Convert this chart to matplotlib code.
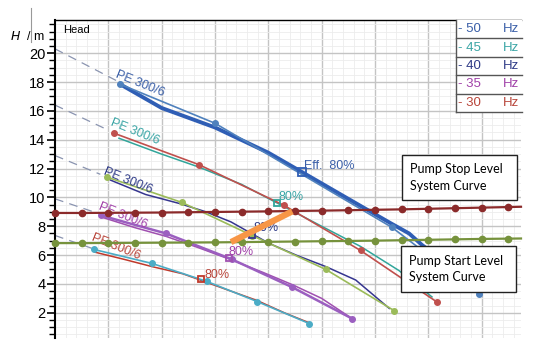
import matplotlib
matplotlib.use("Agg")
import matplotlib.pyplot as plt
from matplotlib.patches import Rectangle
from matplotlib.lines import Line2D

# Drehzahlen (Frequenz)
speeds = ["50", "45", "40", "35", "30"]

# gemessene Punkte (mit Markern)
meas_q = [
    [1.22, 3.0, 6.32, 7.95],
    [1.1, 2.7, 4.3, 5.73, 7.17],
    [0.98, 2.38, 3.7, 5.08, 6.36],
    [0.86, 2.08, 3.32, 4.45, 5.57],
    [0.73, 1.82, 2.85, 3.79, 4.77],
]
meas_h = [
    [17.85, 15.14, 7.92, 3.33],
    [14.46, 12.27, 9.44, 6.32, 2.73],
    [11.4, 9.65, 7.35, 5.0, 2.15],
    [8.75, 7.5, 5.7, 3.77, 1.6],
    [6.39, 5.42, 4.17, 2.78, 1.25],
]

# Kennlinien PE 300/6
curve_q = [
    [1.22, 2.0, 3.0, 4.0, 4.63, 5.5, 6.3, 6.64, 6.89, 7.5, 7.95],
    [1.2, 2.0, 2.7, 3.5, 4.3, 5.0, 5.73, 6.45, 7.07],
    [1.04, 1.7, 2.33, 2.83, 3.3, 4.01, 4.52, 5.08, 5.64, 6.27],
    [0.9, 1.5, 2.08, 2.7, 3.32, 3.9, 4.45, 5.0, 5.57],
    [0.75, 1.3, 1.82, 2.4, 2.85, 3.3, 3.79, 4.3, 4.77],
]
curve_h = [
    [17.85, 16.2, 14.85, 13.1, 11.76, 9.9, 8.2, 7.5, 6.68, 5.0, 3.4],
    [14.1, 13.0, 12.1, 10.9, 9.35, 8.0, 6.6, 4.93, 3.1],
    [11.2, 10.2, 9.58, 9.0, 8.3, 6.82, 6.0, 5.2, 4.27, 2.3],
    [8.6, 7.9, 7.3, 6.5, 5.65, 4.8, 3.95, 3.0, 1.6],
    [6.2, 5.7, 5.2, 4.7, 4.1, 3.5, 2.85, 2.0, 1.3],
]

# gestrichelte Verlängerung bis Q = 0
ext_q = [[0, 1.15], [0, 0.95], [0, 0.85], [0, 0.8], [0, 0.7]]
ext_h = [[20.3, 18.1], [16.4, 14.75], [12.9, 11.6], [9.9, 8.9], [7.36, 6.46]]

# Wirkungsgrad 80 %
eff_q = [4.63, 4.17, 3.7, 3.26, 2.74]
eff_h = [11.76, 9.58, 7.4, 5.77, 4.31]
eff_labels = ["Eff.  80%", "80%", "80%", "80%", "80%"]

# Anlagenkennlinien
sys_q = [0, 0.5, 1.0, 1.5, 2.0, 2.5, 3.0, 3.5, 4.0, 4.5, 5.0, 5.5, 6.0, 6.5, 7.0, 7.5, 8.0, 8.5, 8.74]
stop_h = [8.92, 8.92, 8.93, 8.94, 8.95, 8.97, 8.99, 9.01, 9.03, 9.06, 9.08, 9.11, 9.14, 9.17, 9.21, 9.25, 9.29, 9.33, 9.35]
start_h = [6.83, 6.83, 6.84, 6.85, 6.86, 6.87, 6.88, 6.9, 6.92, 6.94, 6.96, 6.98, 7.0, 7.03, 7.06, 7.09, 7.12, 7.14, 7.15]

# Betriebsbereich
op_q = [3.3, 4.45]
op_h = [6.9, 9.03]

meas_colors = ["#4f81bd", "#c0504d", "#9bbb59", "#9b5fc0", "#4bacc6"]
curve_colors = ["#2f5eb5", "#31a59a", "#35358f", "#a050b0", "#c0392b"]
text_colors = ["#3a5fa8", "#3aa5a5", "#2e3a87", "#a040a8", "#b8453a"]
label_pos = [(1.12, 18.35), (1.03, 15.05), (0.9, 11.6), (0.8, 9.2), (0.67, 7.05)]
eff_text_pos = [(4.67, 12.0), (4.2, 9.8), (3.73, 7.7), (3.26, 6.0), (2.8, 4.4)]

fig = plt.figure(figsize=(5.33, 3.52), dpi=100)
ax = fig.add_axes([55 / 533, 14 / 352, 466 / 533, 318 / 352])
ax.set_xlim(0, 8.74)
ax.set_ylim(0.25, 22.3)

# Gitter
ax.set_xticks(range(1, 9))
ax.set_xticks([i * 0.2 for i in range(44)], minor=True)
ax.set_yticks(range(2, 22, 2))
ax.set_yticks([i * 0.5 for i in range(1, 45)], minor=True)
ax.grid(which="major", color="#c4c4c4", lw=1.0)
ax.grid(which="minor", color="#ececec", lw=0.6)
ax.set_axisbelow(True)
ax.tick_params(axis="x", which="both", length=0, labelbottom=False)
ax.tick_params(axis="y", which="major", length=6, width=1.2, pad=1, labelsize=10.5)
ax.tick_params(axis="y", which="minor", length=4, width=1.0)
for lab in ax.get_yticklabels():
    lab.set_family("Liberation Sans")
ax.spines["right"].set_visible(False)
ax.spines["bottom"].set_visible(False)
ax.spines["left"].set_linewidth(1.5)
ax.spines["top"].set_linewidth(1.0)

# Kurven
for i in range(5):
    ax.plot(ext_q[i], ext_h[i], color="#8a94b0", lw=0.9, dashes=(7, 5))
    cw = 2.8 if i == 0 else 1.1
    ax.plot(curve_q[i], curve_h[i], color=curve_colors[i], lw=cw, zorder=3)
    mw = 1.8 if i == 3 else 1.2
    ax.plot(meas_q[i], meas_h[i], color=meas_colors[i], lw=mw, marker="o", ms=4, zorder=4)
    ax.text(label_pos[i][0], label_pos[i][1], "PE 300/6", color=text_colors[i], fontsize=9,
            rotation=-22, rotation_mode="anchor", ha="left", va="baseline",
            family="Liberation Sans", zorder=5)
    ax.plot(eff_q[i], eff_h[i], marker="s", ms=6 if i == 0 else 5, mfc="none",
            mec=curve_colors[i], mew=1.3, zorder=5)
    ax.text(eff_text_pos[i][0], eff_text_pos[i][1], eff_labels[i], color=text_colors[i],
            fontsize=9, family="Liberation Sans", zorder=5)

ax.plot(sys_q, stop_h, color="#8b2a2a", lw=1.6, marker="o", ms=4.5,
        markevery=list(range(18)), clip_on=False, zorder=6)
ax.plot(sys_q, start_h, color="#76923c", lw=1.6, marker="o", ms=4.5,
        markevery=list(range(18)), clip_on=False, zorder=6)
ax.plot(op_q, op_h, color="#f79646", lw=4.5, solid_capstyle="butt", zorder=7)

# Texte
fig.text(63 / 533, 1 - 33 / 352, "Head", fontsize=8, family="Liberation Sans")
fig.text(10 / 533, 1 - 40 / 352, "$\\it{H}$  / m", fontsize=9, family="Liberation Sans")
fig.add_artist(Line2D([31 / 533, 31 / 533], [1 - 8 / 352, 1 - 42 / 352], color="#999999", lw=0.8))


def px_box(x0, y0, x1, y1):
    # Pixelkoordinaten -> Achsenanteile
    fx0 = (x0 - 55) / 466
    fx1 = (x1 - 55) / 466
    fy0 = (338 - y1) / 318
    fy1 = (338 - y0) / 318
    return fx0, fy0, fx1 - fx0, fy1 - fy0


for (x0, y0, x1, y1), txt in [((402, 155, 517, 200), "Pump Stop Level\nSystem Curve"),
                              ((401, 246, 516, 292), "Pump Start Level\nSystem Curve")]:
    bx, by, bw, bh = px_box(x0, y0, x1, y1)
    ax.add_patch(Rectangle((bx, by), bw, bh, transform=ax.transAxes, facecolor="white",
                           edgecolor="#222222", lw=1.0, zorder=8))
    ax.text(bx + 0.018, by + bh / 2, txt, transform=ax.transAxes, fontsize=9,
            family="Lato", va="center", ha="left", linespacing=1.45, zorder=9)

# Legende als Tabelle
lx0, ly0, lw_, lh = px_box(455.7, 20, 521.7, 112)
ax.add_patch(Rectangle((lx0, ly0), lw_, lh, transform=ax.transAxes, facecolor="white",
                       edgecolor="none", zorder=8, clip_on=False))
row_h = lh / 5
for i, s in enumerate(speeds):
    top = ly0 + lh - i * row_h
    ax.plot([lx0, lx0 + lw_], [top - row_h, top - row_h], transform=ax.transAxes,
            color="#555555", lw=1.0, zorder=9, clip_on=False)
    ax.text(lx0 + 0.006, top - row_h / 2, "- " + s, transform=ax.transAxes, color=text_colors[i],
            fontsize=9.5, family="Liberation Sans", va="center", zorder=9)
    ax.text(lx0 + lw_ - 0.005, top - row_h / 2, "Hz", transform=ax.transAxes, color=text_colors[i],
            fontsize=9.5, family="Liberation Sans", va="center", ha="right", zorder=9)
ax.plot([lx0, lx0], [ly0, ly0 + lh], transform=ax.transAxes, color="#555555", lw=1.0,
        zorder=9, clip_on=False)

fig.savefig("out.png", dpi=100)
